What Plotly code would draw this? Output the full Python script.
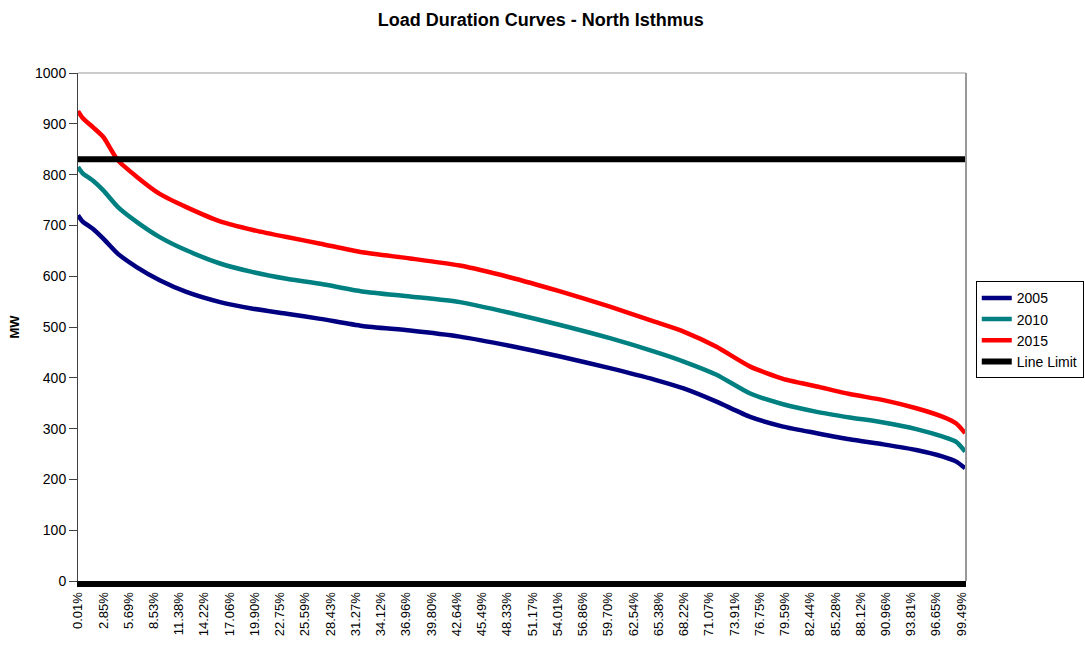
import plotly.graph_objects as go

# Percent of hours the load is equalled or exceeded
pct = [0, 0.5, 1.7, 2.85, 4.5, 6.6, 9.2, 12.2, 16.0, 19.7, 23.5, 27.3, 32.0,
       37.4, 43.0, 48.6, 54.3, 59.9, 65.0, 68.2, 71.9, 75.7, 79.4, 83.2,
       86.9, 90.7, 94.4, 97.4, 98.9, 99.9]

# Load (MW) per study year
load_2005 = [720, 708, 693, 674, 644, 618, 592, 569, 549, 536, 526, 516, 502,
             493, 481, 463, 442, 419, 396, 379, 353, 323, 304, 291,
             279, 269, 258, 245, 235, 222]
load_2010 = [815, 803, 788, 769, 736, 707, 677, 651, 625, 608, 595, 585, 570,
             560, 549, 528, 504, 478, 451, 432, 406, 369, 348, 333,
             322, 312, 299, 284, 274, 255]
load_2015 = [925, 912, 893, 874, 828, 796, 762, 736, 708, 691, 677, 664, 647,
             635, 621, 598, 570, 540, 510, 491, 461, 422, 398, 383,
             368, 356, 340, 323, 310, 291]

line_limit = 830
x_span = [0, 100]

tick_labels = ["0.01%", "2.85%", "5.69%", "8.53%", "11.38%", "14.22%", "17.06%",
               "19.90%", "22.75%", "25.59%", "28.43%", "31.27%", "34.12%",
               "36.96%", "39.80%", "42.64%", "45.49%", "48.33%", "51.17%",
               "54.01%", "56.86%", "59.70%", "62.54%", "65.38%", "68.22%",
               "71.07%", "73.91%", "76.75%", "79.59%", "82.44%", "85.28%",
               "88.12%", "90.96%", "93.81%", "96.65%", "99.49%"]
tick_vals = [float(s.rstrip("%")) for s in tick_labels]

FONT = "Arial, Liberation Sans, sans-serif"

fig = go.Figure()
for name, vals, color in [("2005", load_2005, "#000080"),
                          ("2010", load_2010, "#008080"),
                          ("2015", load_2015, "#FF0000")]:
    fig.add_trace(go.Scatter(x=pct, y=vals, mode="lines", name=name,
                             line=dict(color=color, width=4.5, shape="spline",
                                       smoothing=0.6)))

fig.add_trace(go.Scatter(x=x_span, y=[line_limit, line_limit], mode="lines",
                         name="Line Limit", line=dict(color="#000000", width=6)))

fig.update_layout(
    width=1085, height=646,
    margin=dict(l=78, r=119, t=73, b=65, autoexpand=False),
    paper_bgcolor="white", plot_bgcolor="white",
    font=dict(family=FONT, size=13, color="#000000"),
    title=dict(text="<b>Load Duration Curves - North Isthmus</b>",
               x=0.4985, xanchor="center", y=0.97, yanchor="middle",
               font=dict(family=FONT, size=18)),
    showlegend=True,
    legend=dict(x=1.011, xanchor="left", y=0.59, yanchor="top",
                bordercolor="#000000", borderwidth=1, bgcolor="white",
                font=dict(family=FONT, size=14), tracegroupgap=0,
                itemwidth=30),
    xaxis=dict(range=x_span, tickmode="array", tickvals=tick_vals,
               ticktext=tick_labels, tickangle=-90, ticks="",
               showgrid=False, zeroline=False, showline=True,
               linecolor="#000000", linewidth=6,
               tickfont=dict(family=FONT, size=13)),
    yaxis=dict(range=[0, 1000], dtick=100, ticks="outside", ticklen=8,
               tickcolor="#404040", showgrid=False, zeroline=False,
               showline=True, linecolor="#404040", linewidth=1,
               title=dict(text="<b>MW</b>", standoff=12,
                          font=dict(family=FONT, size=13)),
               tickfont=dict(family=FONT, size=14)),
)

# plot frame: light grey top and right edges
fig.add_shape(type="line", xref="paper", yref="paper", x0=0, x1=1, y0=1, y1=1,
              line=dict(color="#999999", width=1))
fig.add_shape(type="line", xref="paper", yref="paper", x0=1, x1=1, y0=0, y1=1,
              line=dict(color="#999999", width=2))

fig.write_html("out.html")
